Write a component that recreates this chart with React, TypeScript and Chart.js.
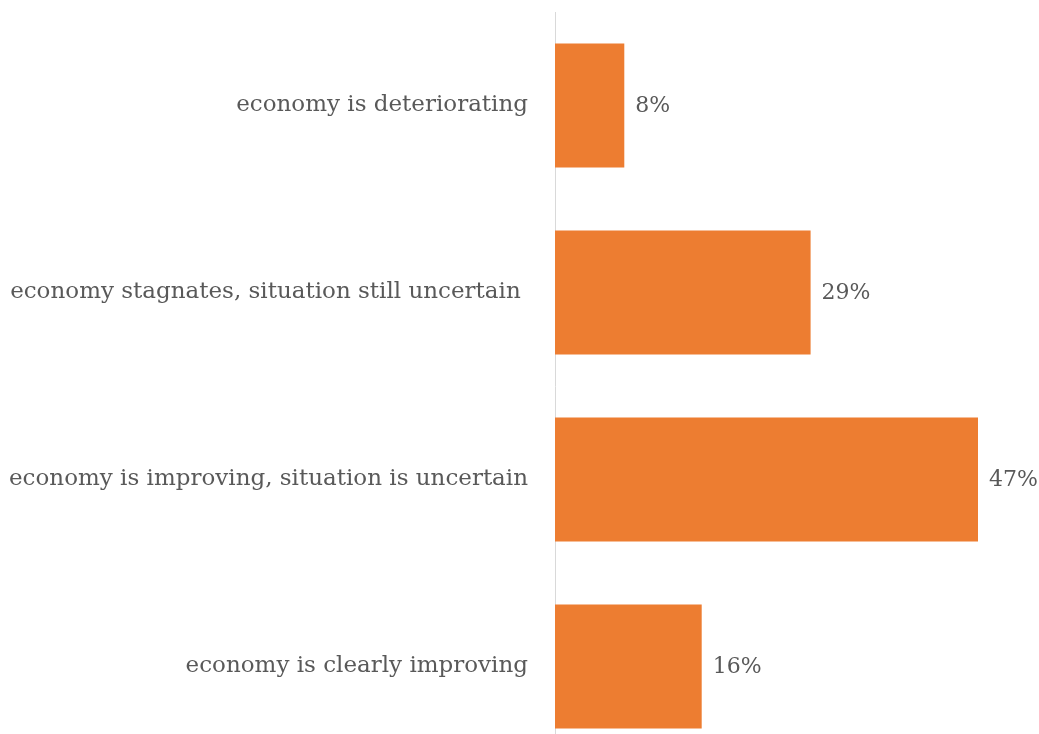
import React, { useEffect, useRef } from "react";
import { Chart, registerables } from "chart.js";

Chart.register(...registerables);

const categories = [
  "economy is deteriorating",
  "economy stagnates, situation still uncertain ",
  "economy is improving, situation is uncertain",
  "economy is clearly improving",
];
const shares = [7.7, 28.4, 47.0, 16.3];
const valueLabels = ["8%", "29%", "47%", "16%"];

const FONT = "'DejaVu Serif', serif";
const TEXT = "#595959";

const valueLabelPlugin = {
  id: "valueLabels",
  afterDatasetsDraw(chart: any) {
    const ctx = chart.ctx;
    const meta = chart.getDatasetMeta(0);
    ctx.save();
    ctx.font = `22px ${FONT}`;
    ctx.fillStyle = TEXT;
    ctx.textAlign = "left";
    ctx.textBaseline = "middle";
    meta.data.forEach((bar: any, i: number) => {
      ctx.fillText(valueLabels[i], bar.x + 11, bar.y + 1);
    });
    ctx.restore();
  },
};

export default function App() {
  const ref = useRef<HTMLCanvasElement>(null);
  useEffect(() => {
    if (!ref.current) return;
    const chart = new Chart(ref.current, {
      type: "bar",
      data: {
        labels: categories,
        datasets: [
          {
            data: shares,
            backgroundColor: "#ED7D31",
            categoryPercentage: 1,
            barPercentage: 0.663,
          },
        ],
      },
      options: {
        indexAxis: "y",
        animation: false,
        responsive: false,
        devicePixelRatio: 1,
        layout: { padding: { top: 12, right: 34, bottom: 0, left: 0 } },
        plugins: { legend: { display: false }, tooltip: { enabled: false } },
        scales: {
          x: { display: false, min: 0, max: 50 },
          y: {
            afterFit: (s: any) => {
              s.width = 555;
              s.paddingTop = 0;
              s.paddingBottom = 0;
            },
            grid: { display: false, drawTicks: false },
            border: { display: true, color: "#D9D9D9", width: 1 },
            ticks: {
              color: TEXT,
              font: { family: FONT, size: 23 },
              padding: 27,
            },
          },
        },
      },
      plugins: [valueLabelPlugin],
    });
    return () => chart.destroy();
  }, []);
  return (
    <div
      style={{
        position: "fixed",
        left: 0,
        top: 0,
        width: 1039,
        height: 734,
        overflow: "hidden",
        background: "#fff",
      }}
    >
      <canvas ref={ref} width={1039} height={760} />
    </div>
  );
}
